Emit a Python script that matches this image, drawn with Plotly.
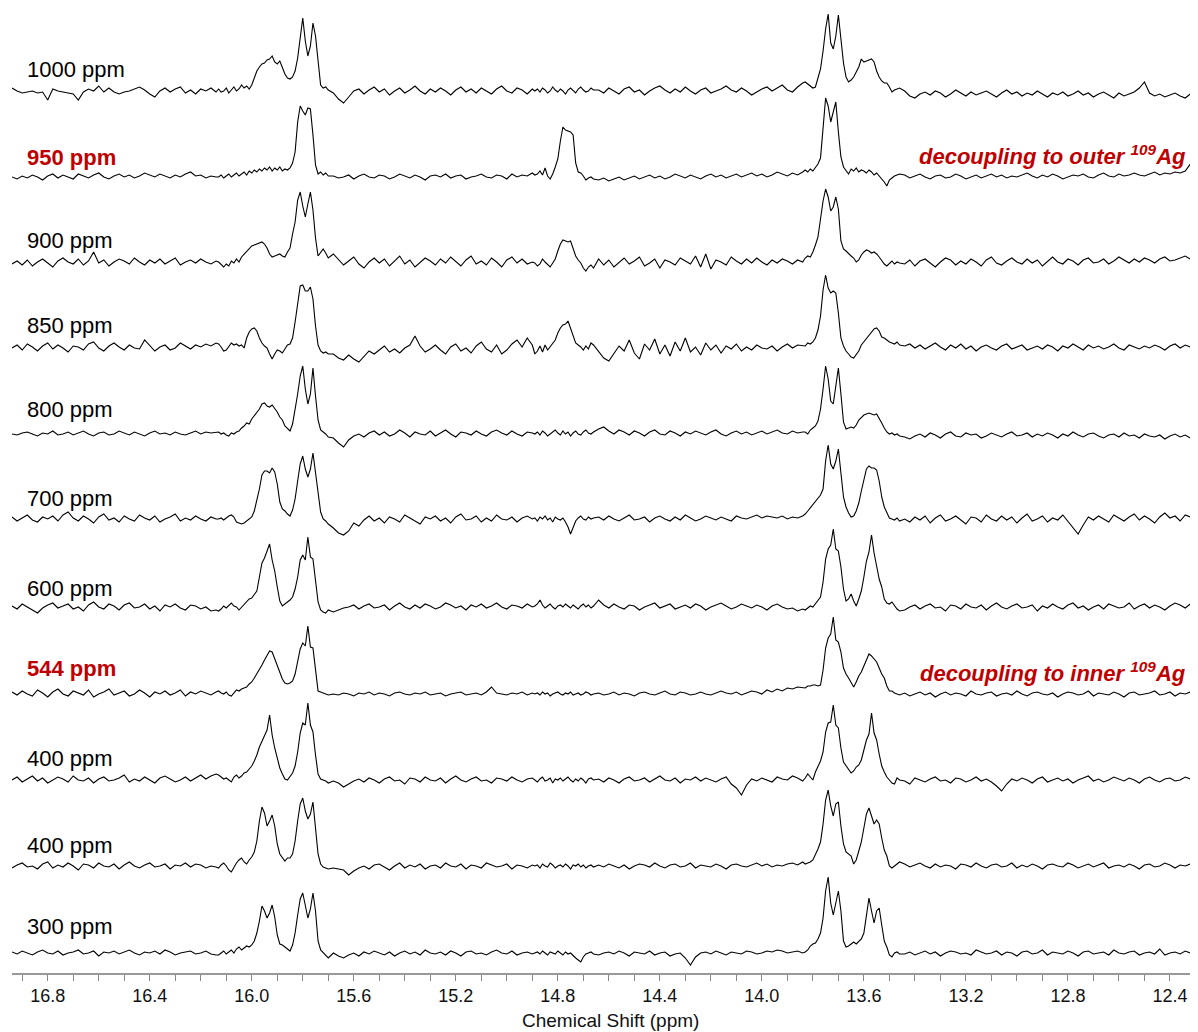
import numpy as np
import plotly.graph_objects as go

# ---------------- data ----------------
# chemical-shift segments (ppm) on which each spectrum is sampled (start, end)
segments_ppm = [(16.94, 16.14), (16.13, 15.70), (15.68, 14.90), (14.89, 14.66),
                (14.64, 13.84), (13.83, 13.46), (13.44, 12.28)]

spectrum_labels = ["1000 ppm", "950 ppm", "900 ppm", "850 ppm", "800 ppm", "700 ppm",
                   "600 ppm", "544 ppm", "400 ppm", "400 ppm", "300 ppm"]
highlighted = [False, True, False, False, False, False, False, True, False, False, False]

tick_values = [16.8, 16.4, 16.0, 15.6, 15.2, 14.8, 14.4, 14.0, 13.6, 13.2, 12.8, 12.4]
tick_labels = ["16.8", "16.4", "16.0", "15.6", "15.2", "14.8", "14.4", "14.0", "13.6", "13.2", "12.8", "12.4"]

# intensities (arbitrary units) per segment
spec_1000 = [
    [3,0,-2,-1,0,-2,-1,-9,2,0,-1,-2,-3,-9,-1,2,0,5,-1,3,-1,-3,-1,0,2,4,1,-3,-6,0,3,-1,2,4,-2,1,-3,2,0,3,-1],
    [2,-1,0,3,-2,1,4,0,2,6,3,5,2,6,14,20,24,27,28,31,32,35,29,27,30,24,17,13,12,14,20,33,55,73,50,35,45,68,55,30,6,3,4,1],
    [-2,-8,-12,-6,0,2,-3,1,4,-1,2,-4,0,3,-2,1,5,0,-3,2,-1,3,0,-4,1,4,-1,2,-2,3,0,-3,2,5,0,-2,3,1,-3,2],
    [0,2,-1,3,1,-2,0,4,1,-1,2,0,-3,1,3,0,-2,2,4,1,-1,0,3,1],
    [1,-2,3,0,-3,2,4,-1,1,-4,0,3,5,1,-2,2,-1,4,0,-3,1,3,-2,0,2,5,1,-1,3,0,-4,-1,2,4,0,3,6,1,-1,4,8],
    [9,7,5,3,4,12,22,40,62,77,48,42,55,76,50,28,14,9,11,14,19,24,32,29,30,31,32,29,20,14,10,8,8,4,-1,1,2,3],
    [0,-5,-7,-3,-1,-4,0,-2,-6,-3,1,-2,-5,-1,-4,-2,0,-3,-6,-2,1,-3,-1,-5,-2,-4,0,-3,-6,-2,-4,-1,-5,-3,0,-4,-2,-6,-3,-1,-4,-7,-2,-5,-3,-1,3,9,-2,-5,-3,-6,-4,-2,-5,-7,-3,-5,-4],
]
spec_950 = [
    [0,-2,1,-1,2,0,-3,1,3,-1,2,0,-2,3,1,-1,2,4,0,-2,1,3,0,2,-1,1,4,2,0,3,1,-1,2,0,3,5,1,2,-1,1,0],
    [0,2,-1,1,3,0,2,4,1,3,5,2,6,4,7,5,8,6,9,7,10,6,9,7,10,6,8,7,9,14,25,55,71,66,62,69,68,42,12,3,5,2,4,1],
    [1,-1,0,2,-2,1,3,0,-1,2,1,-2,0,3,1,-1,2,0,-3,1,2,0,3,-1,1,2,-2,0,1,3,0,-1,2,1,-2,3,0,2,1,4],
    [2,3,6,2,9,1,-2,3,10,18,36,50,47,46,45,42,14,5,4,1,-3,-1,0,-2],
    [-3,-1,-4,-2,0,-3,-1,1,-2,0,2,-1,1,-2,0,3,1,-1,2,0,-2,1,3,0,2,-1,1,3,0,2,4,1,3,0,2,5,3,1,4,2,5],
    [7,5,8,6,10,13,19,50,79,71,55,65,75,45,20,10,7,3,8,6,9,5,7,6,4,7,5,2,4,1,-1,-5,-9,-3,-1,1,2,3],
    [2,-1,1,3,0,-2,1,2,-1,0,3,1,-2,0,2,-1,1,3,0,2,-1,1,0,2,4,1,-1,2,0,3,1,-2,0,2,1,3,0,-1,2,4,1,0,3,1,2,4,2,1,3,5,2,4,3,5,4,6,13,9,8],
]
spec_900 = [
    [-2,1,-3,2,-4,0,3,-1,-5,1,4,0,-2,3,-3,1,10,-1,2,-4,0,3,1,-2,4,0,-3,2,-1,3,-2,1,4,-3,0,2,-1,3,0,-2,1],
    [0,-3,-5,-2,-4,1,-1,3,0,5,8,10,13,16,17,18,19,20,18,14,8,5,6,7,8,6,5,10,14,28,40,62,70,56,45,58,70,52,24,6,10,13,9,4],
    [8,2,-3,1,5,-2,-6,0,4,-1,3,-4,1,6,-2,2,-5,0,4,1,-3,3,-1,5,0,-4,2,6,-2,1,-3,4,0,-5,2,5,-1,3,-2,0],
    [-1,-4,-2,3,0,-3,-5,-1,3,11,18,22,21,20,21,14,6,2,-1,-6,-9,-5,-3,-6],
    [3,-3,2,-5,0,4,-2,1,5,-4,-1,3,-6,2,0,-3,4,1,-2,6,-5,8,-7,2,0,-3,5,1,-2,3,-1,4,0,-3,2,-1,3,1,-2,2,0],
    [4,6,5,10,17,25,43,61,73,65,51,55,65,53,21,13,11,8,6,4,0,2,7,10,12,11,9,10,8,5,1,-2,-4,-1,1,-2,0,-1],
    [-2,2,-4,1,3,-1,-5,0,4,2,-3,1,-2,3,0,-4,2,5,-1,-3,1,4,0,-2,3,-1,2,-4,1,5,0,-2,3,1,-3,2,4,-1,0,3,-2,1,5,2,-1,3,0,4,2,-1,3,5,1,2,4,6,3,5,4],
]
spec_850 = [
    [0,3,-2,4,1,-3,2,5,-1,3,0,-4,2,1,-2,4,6,0,-3,2,5,1,-2,3,0,-1,8,2,-3,1,3,-2,0,5,2,-1,3,1,4,2,5],
    [4,1,-3,-2,2,5,3,4,2,3,0,10,16,19,20,17,10,5,2,0,-6,-11,-6,-2,-3,-5,-1,3,4,10,26,45,62,63,57,57,61,49,22,3,-3,-5,-4,-6],
    [-6,-10,-12,-7,-11,-14,-8,-3,-6,-2,2,-4,-1,-5,0,3,12,2,-4,-1,3,-2,-6,1,4,-3,0,-5,2,6,-1,-4,3,-6,-2,4,8,1,10,3],
    [-6,-3,2,-4,3,-2,1,4,8,15,20,23,24,27,20,13,5,3,1,-2,2,-1,5,3],
    [-4,-10,-13,-6,2,-3,8,-5,-11,4,-2,9,-6,3,-8,6,-3,10,-4,1,-7,5,-2,3,-5,2,-1,4,-3,1,-2,3,0,-1,2,-3,1,4,0,3,2],
    [2,5,4,6,10,18,32,58,73,60,55,57,55,35,10,2,-3,-6,-9,-10,-7,-3,3,6,9,12,16,19,20,17,11,10,8,6,5,4,6,3],
    [2,4,0,3,-1,2,5,1,-2,3,0,4,-1,2,-3,1,3,0,-2,2,4,-1,1,3,-2,0,2,-1,3,1,-3,2,0,4,1,-2,3,0,2,-1,1,4,0,-2,3,1,-1,2,0,3,1,-2,2,4,0,3,1,2,3],
]
spec_800 = [
    [0,-1,1,2,0,-2,1,0,3,-1,0,2,-1,1,3,0,-2,1,2,-1,0,3,1,-1,2,0,-2,1,3,0,1,-1,2,0,-1,1,3,0,2,1,2],
    [2,0,1,-1,-2,1,0,2,3,6,8,11,10,15,18,21,25,30,31,28,27,29,26,22,17,14,8,5,3,10,24,40,58,68,45,30,40,66,38,14,4,2,0,-3],
    [-4,-9,-13,-6,-2,0,-3,1,3,-1,2,-2,0,4,1,-3,2,0,-1,3,-2,1,4,0,-3,2,1,-1,3,0,-2,2,4,1,-1,3,0,-2,2,1],
    [0,2,-1,3,1,-2,0,2,4,1,-1,3,0,2,-2,1,3,0,-1,2,4,1,0,2],
    [5,7,3,0,4,2,-1,3,1,-2,2,4,0,-1,3,1,-2,2,0,3,1,-1,2,4,0,-2,1,3,0,2,-1,1,3,0,2,4,1,0,3,1,2],
    [2,0,4,6,8,13,25,45,68,55,33,30,48,66,40,12,5,6,7,6,9,14,17,19,20,21,20,19,20,16,11,6,2,0,1,-1,0,-2],
    [-3,-5,-2,0,-3,1,-1,-4,0,2,-2,-3,1,-1,0,-4,-2,1,-1,-3,0,2,-2,-1,1,-3,0,-2,1,-1,-4,0,-2,2,-1,-3,0,1,-2,-4,-1,0,-3,1,-2,-1,-4,0,-2,-3,-1,-5,-2,0,-3,-1,-4,-2,-3],
]
spec_700 = [
    [2,-2,1,4,-1,-3,2,0,3,-2,4,7,1,-2,3,0,-4,2,5,-1,1,-3,3,0,-2,4,1,-1,3,-3,0,2,5,-2,1,-1,3,0,-2,2,0],
    [0,1,-1,1,3,4,2,-3,-4,-5,-4,-2,0,2,8,18,30,44,48,48,46,51,47,35,17,10,8,5,3,9,20,38,55,63,50,42,50,66,47,24,7,0,-2,-5],
    [-9,-14,-16,-12,-4,-7,-1,3,-2,1,-4,2,0,-3,4,1,-2,-5,2,0,3,-2,1,-4,2,5,-1,0,3,-3,1,-2,4,0,-1,2,-3,1,3,0],
    [1,-2,2,0,3,-1,1,-3,2,0,-1,1,-3,-8,-15,-9,-2,1,3,0,-1,2,0,1],
    [2,-1,3,0,-2,1,4,-1,0,2,-3,1,3,0,-2,2,-1,4,1,-2,0,3,1,-1,2,0,-2,3,1,0,2,4,1,3,2,1,3,0,2,1,3],
    [5,8,11,14,17,20,24,30,58,74,55,50,58,70,45,22,12,6,2,3,8,16,28,40,50,53,51,51,49,38,22,12,6,1,0,-1,1,-2],
    [0,-3,2,-1,3,-4,1,4,-2,0,3,-1,-5,2,1,-3,4,0,-2,3,-1,2,-4,1,5,-2,0,3,-3,1,-1,4,-2,-8,-15,-6,2,-1,3,0,-3,4,1,-2,2,5,-1,3,0,-4,2,6,1,3,-2,4,2,5,3],
]
spec_600 = [
    [1,-2,3,0,-3,-6,-1,2,4,-1,1,3,-2,0,-4,2,5,0,-2,3,1,-3,2,4,-1,0,3,-2,1,-4,2,0,3,-1,-3,2,1,-2,0,-4,-3],
    [-4,-2,1,-1,2,4,1,0,-3,0,3,5,8,9,12,16,30,44,49,56,63,47,36,20,6,1,3,5,7,10,18,30,47,52,47,70,50,48,28,5,-3,-5,-6,-3],
    [-5,-3,-1,0,2,-2,1,3,-1,0,2,-3,1,4,0,-2,2,-1,3,1,-2,0,4,2,-1,1,-3,2,0,3,-1,1,4,0,-2,2,1,-1,3,0],
    [1,3,7,2,-1,1,3,0,-2,1,2,0,3,1,-1,2,0,-2,1,3,0,2,-1,1],
    [7,2,-1,3,0,-2,2,1,-3,0,2,4,-1,1,3,-2,0,2,-1,3,1,-3,0,2,4,1,-2,0,3,1,-1,2,0,-3,1,3,0,-2,-1,-4,-2],
    [-3,-1,1,0,3,6,10,25,48,58,62,78,58,56,40,18,6,8,13,6,1,8,16,30,46,55,72,54,40,28,20,8,4,3,5,1,-2,-4],
    [-3,0,2,-2,1,3,-1,0,-4,2,1,-2,3,0,-1,2,-3,1,4,0,-2,1,3,-1,0,2,-4,1,-1,3,0,-2,2,4,-1,1,-3,0,2,-2,3,1,-1,0,4,-2,1,3,-1,2,0,-3,1,4,2,-1,3,1,2],
]
spec_544 = [
    [2,-1,3,0,-2,4,1,-3,2,5,0,-2,3,1,-1,4,-3,0,2,5,-1,1,3,-2,0,4,1,-3,2,0,3,-1,1,4,-2,2,0,3,1,-1,2],
    [3,1,0,2,-1,-2,1,4,3,5,6,7,10,12,16,20,24,29,34,38,43,42,35,28,20,15,11,10,11,13,20,32,45,51,48,68,47,46,22,3,2,1,0,-1],
    [0,-1,1,0,-2,1,0,2,-1,1,0,-2,1,2,0,-1,1,0,2,-1,0,1,-2,0,1,2,-1,0,1,-1,2,7,1,0,-1,1,0,2,-1,1],
    [0,1,-1,2,0,1,-2,0,1,2,0,-1,1,0,2,-1,0,1,-1,0,2,1,-1,0],
    [1,-1,0,2,-1,1,0,-2,1,2,0,-1,1,3,0,-1,2,1,-1,0,2,0,-1,1,3,1,0,2,-1,1,3,2,0,4,2,5,3,6,5,7,6],
    [6,8,8,9,9,8,9,24,46,56,60,77,54,52,42,26,20,16,12,7,12,18,22,28,35,40,38,35,32,26,20,16,8,3,3,1,0,-1],
    [1,-2,0,2,-1,1,-3,0,2,-1,1,0,-2,3,0,-1,1,2,-2,0,1,-1,3,0,-2,1,2,0,-1,1,-3,0,2,1,-1,0,3,-2,1,0,-1,2,0,-3,1,2,-1,0,1,3,-1,0,2,-2,1,0,2,1,-1],
]
spec_400a = [
    [0,3,-2,1,4,-1,2,-3,0,3,1,-2,4,0,-1,2,-3,1,3,-1,0,2,5,-2,1,-1,3,0,-3,2,4,1,-2,0,3,-1,2,5,1,4,6],
    [5,3,1,2,0,-2,3,5,2,4,7,8,11,14,19,25,33,39,44,50,65,45,32,22,12,6,1,0,3,7,14,28,47,57,55,77,55,48,25,6,1,0,-1,-3],
    [-1,-3,-7,-4,-1,1,-2,2,0,-3,1,3,-1,0,-4,2,1,-2,3,0,-1,2,-3,1,4,0,-2,1,3,-1,0,-3,2,1,-1,3,0,-2,1,2],
    [0,-2,1,3,-1,0,2,-3,1,0,2,-1,1,3,0,-2,1,-1,2,0,-3,1,2,0],
    [1,-2,2,0,-3,1,3,-1,0,2,-2,1,4,0,-1,2,-3,1,0,3,-1,2,0,-2,1,3,-4,-8,-15,-5,1,-1,2,0,-2,3,1,0,4,2,-1],
    [2,6,3,0,8,14,19,28,48,57,58,75,55,52,32,18,14,10,7,9,13,15,20,30,40,46,67,47,40,26,14,8,3,0,-3,-4,2,0],
    [-1,-4,2,0,-2,1,3,-1,0,-3,2,1,-2,0,3,-1,1,-2,-6,-11,-4,1,-1,2,0,-3,1,3,-2,0,2,-1,1,-3,0,2,4,-1,1,-2,0,3,1,-1,2,0,-3,1,3,0,-2,1,2,-1,0,3,1,-2,0],
]
spec_400b = [
    [-2,1,3,-1,0,-3,2,4,-2,1,-1,3,0,-4,2,1,-2,3,0,-1,2,-3,1,4,0,-2,1,3,-1,0,2,-3,1,0,3,-1,2,1,-2,0,-1],
    [-2,1,3,0,-4,-6,-1,3,6,8,4,2,6,9,14,25,45,59,53,40,45,51,40,22,12,8,5,8,8,12,25,45,62,68,55,47,52,64,40,12,2,-1,-2,-3],
    [-2,-3,-4,-9,-5,-2,0,-3,1,2,-1,-4,0,3,-2,1,-1,2,-3,0,1,-2,3,0,-1,2,-3,1,0,-2,3,1,-1,0,2,-3,1,0,-2,1],
    [0,1,-2,2,0,-1,3,1,-2,0,1,-1,2,0,-3,1,0,2,-1,1,-2,0,1,-1],
    [1,-1,2,0,-2,1,-3,0,2,1,-1,3,0,-2,1,2,-1,0,3,-2,1,0,-1,2,0,-3,1,2,0,-1,1,3,0,2,-1,1,0,2,3,1,4],
    [2,3,4,6,11,17,24,42,66,76,60,50,62,64,40,22,14,12,10,2,6,15,24,38,52,58,50,42,46,42,28,16,10,0,-2,0,2,4],
    [2,-1,1,3,0,-2,2,-1,1,0,-3,2,1,-1,3,0,-2,1,2,-1,0,3,-2,1,-1,2,0,-3,1,2,0,-1,3,1,-2,0,2,-1,1,3,-2,0,1,-1,2,0,-3,1,2,-1,0,3,1,-2,1,0,2,-1,1],
]
spec_300 = [
    [1,-1,2,0,-2,1,3,0,-1,2,-2,0,1,3,-1,0,2,-3,1,0,2,-1,1,3,0,-2,1,0,2,-1,3,1,-2,0,1,2,-1,0,2,-1,-2],
    [-2,0,2,-1,1,3,0,4,6,3,5,7,6,8,12,20,32,47,42,35,40,48,36,18,9,8,6,4,2,8,20,38,54,60,46,35,44,60,42,12,3,0,-3,-5],
    [0,-3,-5,-2,0,-3,1,-1,2,0,-2,1,-3,0,2,-1,1,-2,3,0,-1,1,-2,2,0,-3,1,2,-1,0,-2,1,3,0,-1,2,-2,0,1,-1],
    [0,1,-1,2,0,-2,1,0,-1,2,0,-2,1,-1,0,-3,-5,-7,-9,-4,-1,0,1,-1],
    [-2,0,1,-1,2,0,-3,1,0,-1,2,-2,0,1,-3,-1,0,-5,-12,-4,0,1,-1,2,0,-2,1,0,-1,2,1,-1,0,2,1,3,2,0,1,2,0],
    [1,3,7,9,10,14,20,35,62,76,50,38,50,62,42,12,6,7,9,11,9,12,14,20,40,55,42,30,42,45,28,12,6,-2,-4,0,1,-1],
    [-1,1,-2,0,2,-1,1,-3,0,2,1,-1,0,-2,3,1,-1,0,2,-2,1,0,-3,1,2,-1,0,3,-2,1,0,-1,2,0,-3,1,2,-1,0,1,-2,3,0,-1,1,2,-2,0,1,-1,4,-2,0,1,-1,2,0,-2,1],
]

spectra = [spec_1000, spec_950, spec_900, spec_850, spec_800, spec_700,
           spec_600, spec_544, spec_400a, spec_400b, spec_300]

# ---------------- layout constants ----------------
# the page body has an 8 px margin, so the figure is made 8 px smaller and
# every page position below is given in page pixels
PAGE_OFF = 8
FIG_W, FIG_H = 1198 - PAGE_OFF, 1032 - PAGE_OFF
AXIS_Y = 973                      # page y of the x axis line
PLOT_LEFT = 12                    # page x of the plot-area left edge
PLOT_W = 1198 - PLOT_LEFT
PLOT_H = AXIS_Y - PAGE_OFF        # plot-area height (1 data unit = 1 px)

baseline_px = [91, 177, 262, 348, 434, 519, 607, 694, 780, 866, 953]
label_px = [69, 157, 240, 325, 409, 498, 588, 668, 758, 845, 926]
RED = "#c00000"
FONT = "Liberation Sans, Arial, sans-serif"

fig = go.Figure()
for segs, base in zip(spectra, baseline_px):
    xs = np.concatenate([np.linspace(a, b, len(s)) for (a, b), s in zip(segments_ppm, segs)])
    ys = np.concatenate([np.asarray(s, dtype=float) for s in segs]) + (AXIS_Y - base)
    fig.add_trace(go.Scatter(x=xs, y=ys, mode="lines",
                             line=dict(color="black", width=1.1),
                             showlegend=False, hoverinfo="skip"))

annotations = []
for text, hl, ly in zip(spectrum_labels, highlighted, label_px):
    annotations.append(dict(
        x=(25 - PLOT_LEFT) / PLOT_W, xref="paper", xanchor="left",
        y=AXIS_Y - ly, yref="y", yanchor="middle",
        text=f"<b>{text}</b>" if hl else text, showarrow=False,
        font=dict(family=FONT, size=22, color=RED if hl else "black")))

for txt, ly in [("decoupling to outer <sup>109</sup>Ag", 155),
                ("decoupling to inner <sup>109</sup>Ag", 672)]:
    annotations.append(dict(
        x=(1188 - PLOT_LEFT) / PLOT_W, xref="paper", xanchor="right",
        y=AXIS_Y - ly, yref="y", yanchor="middle",
        text=f"<b><i>{txt}</i></b>", showarrow=False,
        font=dict(family=FONT, size=22, color=RED)))

annotations.append(dict(
    x=(610 - PLOT_LEFT) / PLOT_W, xref="paper", xanchor="center",
    y=-(1020 - AXIS_Y) / PLOT_H, yref="paper", yanchor="middle",
    text="Chemical Shift (ppm)", showarrow=False,
    font=dict(family=FONT, size=19, color="#111")))

fig.update_layout(
    width=FIG_W, height=FIG_H,
    margin=dict(l=PLOT_LEFT - PAGE_OFF, r=0, t=0, b=FIG_H - PLOT_H),
    plot_bgcolor="white", paper_bgcolor="white",
    xaxis=dict(range=[16.94, 12.29], tickmode="array", tickvals=tick_values, ticktext=tick_labels,
               ticks="outside", ticklen=6, tickcolor="#888", tickwidth=1,
               showline=True, linecolor="#999", linewidth=1.5,
               showgrid=False, zeroline=False,
               tickfont=dict(family=FONT, size=18, color="#111"),
               minor=dict(tick0=12.4, dtick=0.1, ticks="outside", ticklen=6,
                          tickcolor="#888", showgrid=False)),
    yaxis=dict(range=[0, PLOT_H], visible=False, fixedrange=True),
    annotations=annotations,
)

fig.write_html("out.html")
